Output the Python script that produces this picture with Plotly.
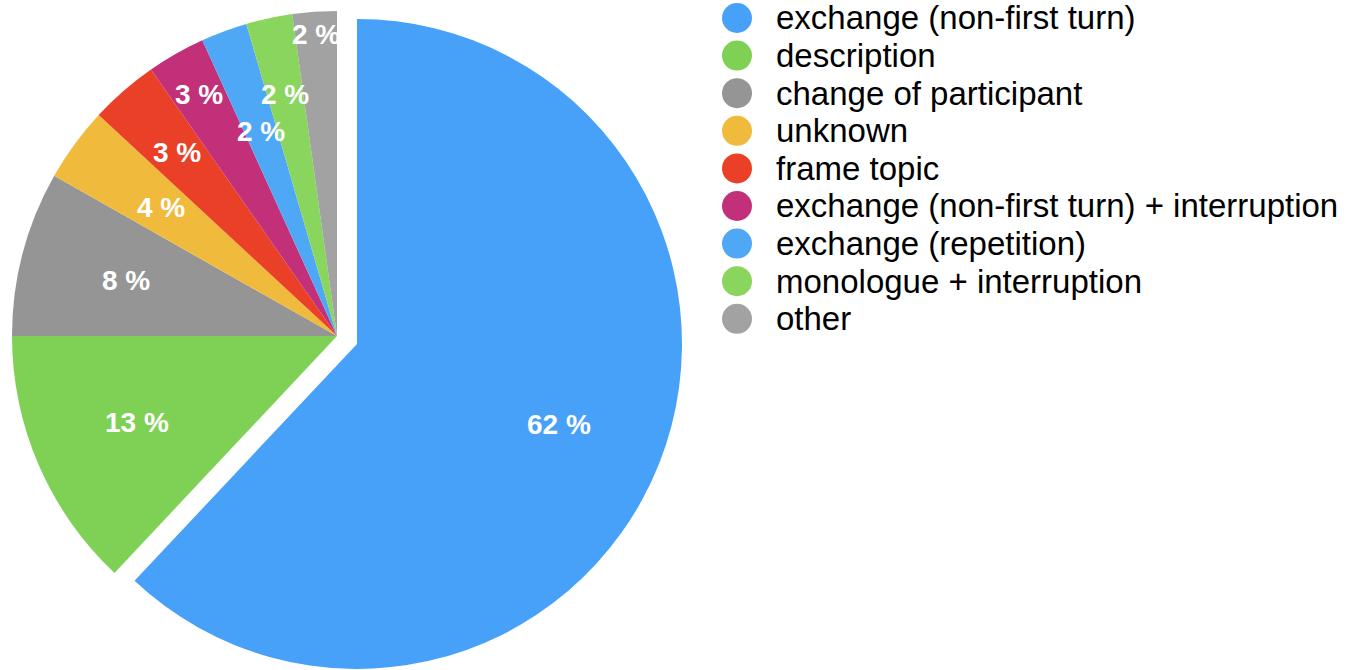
import math
import plotly.graph_objects as go

labels = [
    "exchange (non-first turn)",
    "description",
    "change of participant",
    "unknown",
    "frame topic",
    "exchange (non-first turn) + interruption",
    "exchange (repetition)",
    "monologue + interruption",
    "other",
]
values = [62.0, 13.0, 8.2, 3.7, 3.4, 2.9, 2.3, 2.3, 2.2]
colors = ["#47A1F8", "#7FD155", "#959595", "#F0BA3D", "#EA4027",
          "#C2307A", "#4EA8F6", "#8AD55E", "#A2A2A2"]
exploded = [True, False, False, False, False, False, False, False, False]
# radial placement of each percentage label (fraction of radius)
label_r = [0.67, 0.67, 0.67, 0.67, 0.75, 0.855, 0.67, 0.76, 0.93]

W, H = 1354, 670
R = 325                 # pie radius, px
CX, CY = 337, 336       # pie centre, px from top-left
PULL = 21.5             # explode offset of the pulled slice, px

TRANSPARENT = "rgba(0,0,0,0)"


def domain(cx, cy, r):
    return dict(x=[(cx - r) / W, (cx + r) / W],
                y=[1 - (cy + r) / H, 1 - (cy - r) / H])


total = sum(values)
# direction of the exploded slice (bisector)
cum = 0.0
off_x = off_y = 0.0
for v, e in zip(values, exploded):
    if e:
        mid = (cum + v / 2) / total * 2 * math.pi
        off_x, off_y = PULL * math.sin(mid), -PULL * math.cos(mid)
    cum += v

fig = go.Figure()
# base pie (non-exploded slices)
fig.add_trace(go.Pie(
    labels=labels, values=values, sort=False, direction="clockwise",
    rotation=0, textinfo="none", hoverinfo="label+percent",
    marker=dict(colors=[TRANSPARENT if e else c for c, e in zip(colors, exploded)],
                line=dict(width=0)),
    domain=domain(CX, CY, R), showlegend=False,
))
# exploded slice
fig.add_trace(go.Pie(
    labels=labels, values=values, sort=False, direction="clockwise",
    rotation=0, textinfo="none", hoverinfo="label+percent",
    marker=dict(colors=[c if e else TRANSPARENT for c, e in zip(colors, exploded)],
                line=dict(width=0)),
    domain=domain(CX + off_x, CY + off_y, R), showlegend=False,
))

cum = 0.0
annotations = []
for v, rf, e in zip(values, label_r, exploded):
    mid = (cum + v / 2) / total * 2 * math.pi
    cum += v
    cx = CX + (off_x if e else 0)
    cy = CY + (off_y if e else 0)
    px = cx + rf * R * math.sin(mid)
    py = cy - rf * R * math.cos(mid)
    annotations.append(dict(
        x=px / W, y=1 - py / H, xref="paper", yref="paper",
        text=f"{round(v)} %", showarrow=False,
        xanchor="center", yanchor="middle",
        font=dict(family="Liberation Sans, Arial, sans-serif", size=28,
                  color="white", weight="bold"),
    ))

# legend
leg_x_circle = 737
leg_x_text = 774
leg_y0 = 18
leg_dy = 37.6
shapes = []
for i, (lab, col) in enumerate(zip(labels, colors)):
    yc = 1 - (leg_y0 + i * leg_dy) / H
    shapes.append(dict(
        type="circle", xref="paper", yref="paper",
        xsizemode="pixel", ysizemode="pixel",
        xanchor=leg_x_circle / W, yanchor=yc,
        x0=-15, x1=15, y0=-15, y1=15,
        fillcolor=col, line=dict(width=0),
    ))
    annotations.append(dict(
        x=leg_x_text / W, y=yc, xref="paper", yref="paper",
        text=lab, showarrow=False, xanchor="left", yanchor="middle",
        font=dict(family="Liberation Sans, Arial, sans-serif", size=33,
                  color="black"),
    ))

fig.update_layout(
    width=W, height=H, margin=dict(l=0, r=0, t=0, b=0),
    paper_bgcolor="white", plot_bgcolor="white",
    annotations=annotations, shapes=shapes,
)
fig.write_html("out.html", config={"displayModeBar": False},
               post_script="document.body.style.margin='0';"
                           "document.body.style.overflow='hidden';")
